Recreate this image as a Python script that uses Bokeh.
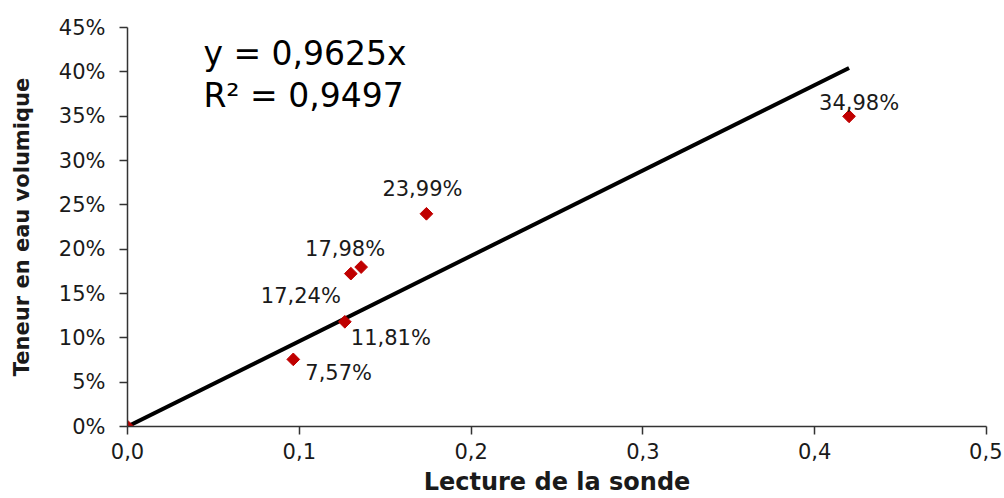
from bokeh.plotting import figure
from bokeh.models import ColumnDataSource, Label, FixedTicker, NumeralTickFormatter, CustomJSTickFormatter, Range1d
from bokeh.core.properties import value
from bokeh.embed import file_html
from bokeh.resources import INLINE

# Data
probe_reading = [0.0, 0.0965, 0.1265, 0.130, 0.136, 0.174, 0.420]
water_content = [0.0, 0.0757, 0.1181, 0.1724, 0.1798, 0.2399, 0.3498]
trend_slope = 0.9625
r_squared = 0.9497
x_ticks = [0.0, 0.1, 0.2, 0.3, 0.4, 0.5]
y_ticks = [0.0, 0.05, 0.10, 0.15, 0.20, 0.25, 0.30, 0.35, 0.40, 0.45]

# Label placement (pixels, styling only)
label_dx = [0, 12, 6, -10, -16, -4, 10]
label_dy = [0, 14, 16, 22, -18, -25, -13]
label_align = ["left", "left", "left", "right", "center", "center", "center"]

FONT = "DejaVu Sans"
TXT = "#1a1a1a"

labels = ["" if v == 0 else ("%.2f%%" % (v * 100)).replace(".", ",") for v in water_content]
src = ColumnDataSource(dict(x=probe_reading, y=water_content, lab=labels,
                            dx=label_dx, dy=label_dy, al=label_align))

p = figure(width=1002, height=498, output_backend="svg", toolbar_location=None,
           x_range=Range1d(0, 0.5), y_range=Range1d(0, 0.45),
           min_border_left=127, min_border_right=16, min_border_top=27, min_border_bottom=72)
p.outline_line_color = None
p.xgrid.visible = False
p.ygrid.visible = False
p.background_fill_color = "white"
p.border_fill_color = "white"

# trend line y = slope * x from 0 to max reading
xmax = max(probe_reading)
p.line([0, xmax], [0, trend_slope * xmax], line_color="black", line_width=4)

p.scatter("x", "y", source=src, marker="square", angle=0.7854, size=9,
          fill_color="#c00000", line_color="#c00000")

p.text("x", "y", text="lab", source=src, x_offset="dx", y_offset="dy", text_align="al",
       text_baseline="alphabetic", text_font=value(FONT), text_font_size="21px", text_color=TXT)

for txt, yv in [("y = %s" % str(trend_slope).replace(".", ",") + "x", 0.4207),
                ("R\u00b2 = %s" % str(r_squared).replace(".", ","), 0.3733)]:
    p.add_layout(Label(x=0.0442, y=yv, text=txt, text_font=FONT, text_font_size="33px",
                       text_color="black", text_baseline="alphabetic"))

for ax in (p.xaxis[0], p.yaxis[0]):
    ax.axis_line_color = "#333333"
    ax.axis_line_width = 1.5
    ax.major_tick_line_color = "#333333"
    ax.major_tick_line_width = 1.5
    ax.major_tick_out = 8
    ax.major_tick_in = 0
    ax.minor_tick_line_color = None
    ax.major_label_text_font = FONT
    ax.major_label_text_font_size = "21px"
    ax.major_label_text_color = TXT
    ax.axis_label_text_font = FONT
    ax.axis_label_text_font_style = "bold"
    ax.axis_label_text_font_size = "21px"
    ax.axis_label_text_color = TXT

p.xaxis.ticker = FixedTicker(ticks=x_ticks)
p.yaxis.ticker = FixedTicker(ticks=y_ticks)
p.xaxis.formatter = CustomJSTickFormatter(code="return tick.toFixed(1).replace('.', ',');")
p.yaxis.formatter = NumeralTickFormatter(format="0%")
p.xaxis.axis_label = "Lecture de la sonde"
p.yaxis.axis_label = "Teneur en eau volumique"
p.xaxis.axis_label_text_font_size = "24px"
p.xaxis.major_label_standoff = 8
p.xaxis.axis_label_standoff = 6
p.yaxis.major_label_standoff = 14
p.yaxis.axis_label_standoff = 22

open("out.html", "w").write(file_html(p, INLINE))
